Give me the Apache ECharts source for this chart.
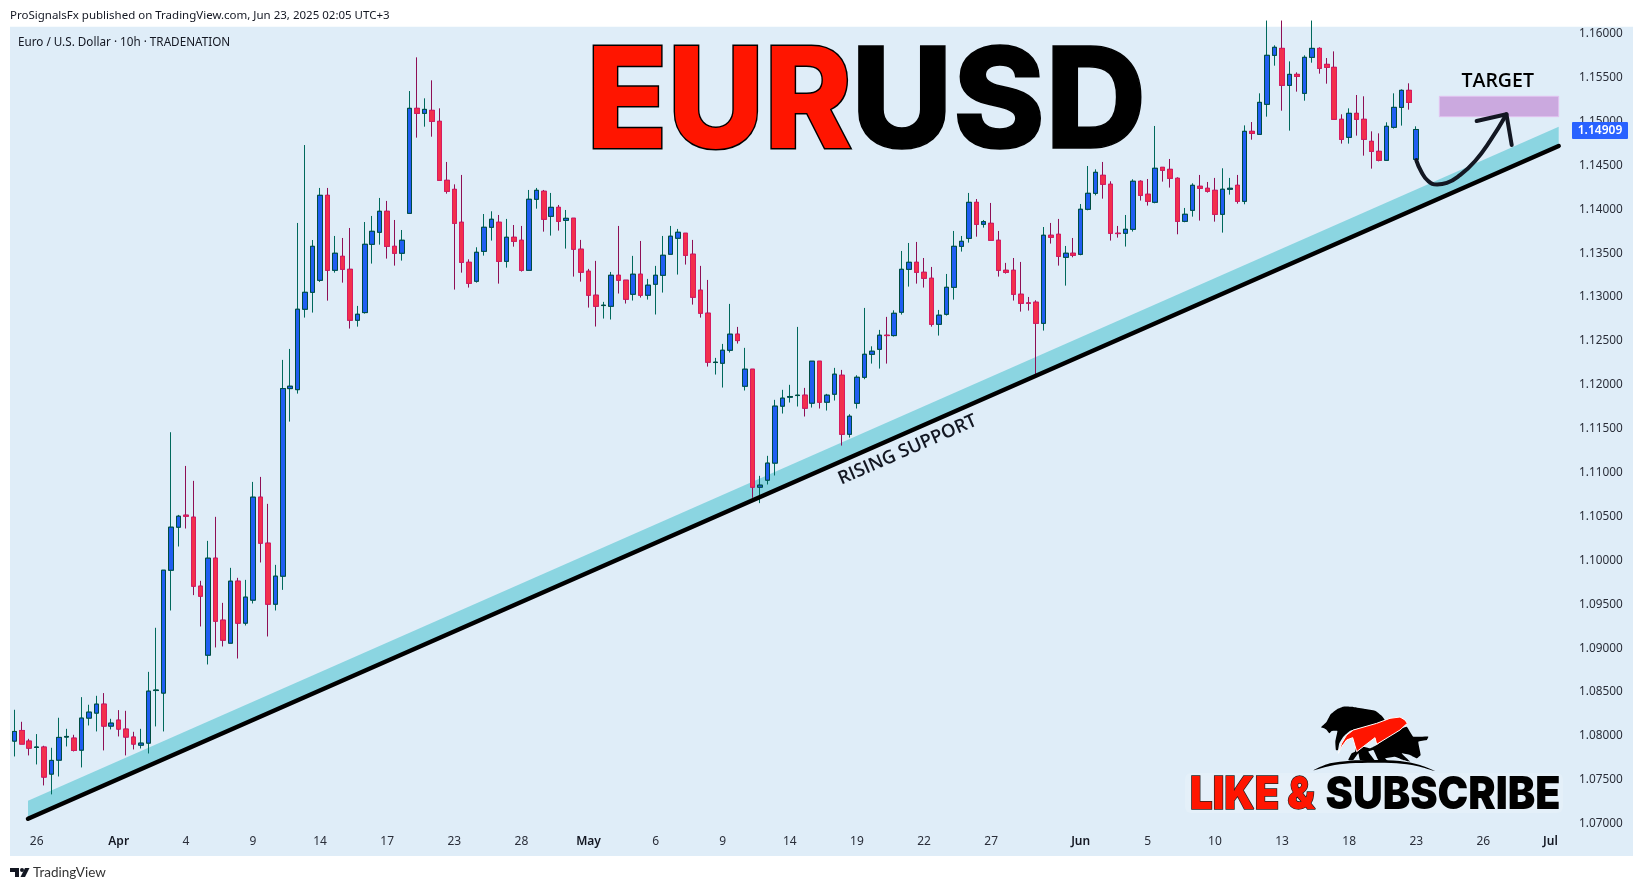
<!DOCTYPE html>
<html><head><meta charset="utf-8"><style>html,body{margin:0;padding:0;background:#fff}#c{width:1643px;height:891px}</style>
<script src="https://cdn.jsdelivr.net/npm/echarts@6/dist/echarts.min.js"></script></head><body><div id="c"></div>
<script>
// each bar: [open, close, low, high]
const marchBars=[[1.07941,1.08051,1.07766,1.08298],[1.08062,1.07907,1.07907,1.08161],[1.07941,1.07861,1.07778,1.07967],[1.07868,1.07874,1.07675,1.08021],[1.07873,1.07531,1.07436,1.07888],[1.07565,1.07721,1.07334,1.07865],[1.07724,1.07983,1.07538,1.08207],[1.07987,1.07994,1.0788,1.08081],[1.07975,1.07835,1.07823,1.08013],[1.07838,1.08203,1.07641,1.08442],[1.08203,1.08271,1.08119,1.08355],[1.0826,1.08362,1.08051,1.08457],[1.08362,1.08112,1.07835,1.08488],[1.08112,1.08146,1.08074,1.08195]];
const aprilBars=[[1.0818,1.08078,1.07994,1.08294],[1.08078,1.07987,1.07778,1.08286],[1.07987,1.07907,1.07846,1.08047],[1.07895,1.07918,1.07857,1.08081],[1.07918,1.0851,1.078,1.0873],[1.08517,1.08523,1.08108,1.09232],[1.08488,1.09888,1.08051,1.09888],[1.09888,1.10378,1.09429,1.1146],[1.10378,1.10503,1.10158,1.10518],[1.10515,1.10503,1.10363,1.11076],[1.10492,1.09706,1.09604,1.10906],[1.09706,1.09592,1.09247,1.09767],[1.0892,1.10025,1.08814,1.10222],[1.10025,1.09307,1.09008,1.10496],[1.09319,1.09091,1.09019,1.09516],[1.09057,1.09763,1.09057,1.09915],[1.09763,1.09285,1.08882,1.09801],[1.09285,1.09581,1.09258,1.09778],[1.09547,1.1072,1.09509,1.10894],[1.1072,1.10196,1.09976,1.10951],[1.10196,1.09501,1.09133,1.10644],[1.09501,1.0982,1.09429,1.09949],[1.0982,1.11957,1.09664,1.12284],[1.11957,1.11984,1.11581,1.12409],[1.11945,1.12861,1.119,1.13844],[1.12861,1.13054,1.12766,1.14732],[1.13054,1.13578,1.12823,1.1365],[1.13191,1.14159,1.13172,1.14243],[1.14159,1.13305,1.12959,1.14243],[1.13305,1.13499,1.13278,1.13696],[1.13464,1.13316,1.13164,1.13673],[1.13316,1.12736,1.12641,1.13787],[1.12736,1.12804,1.12663,1.12899],[1.12823,1.13601,1.12811,1.13855],[1.13601,1.13749,1.13381,1.13924],[1.13738,1.13977,1.13597,1.14129],[1.13977,1.13578,1.13438,1.14095],[1.13578,1.13499,1.13358,1.13878],[1.13499,1.13647,1.13415,1.13764],[1.13954,1.1515,1.13954,1.15347],[1.1515,1.15093,1.14816,1.15731],[1.15093,1.15138,1.14941,1.15264],[1.15127,1.15002,1.14827,1.15469],[1.15002,1.1433,1.1433,1.1515],[1.1433,1.14205,1.14178,1.14539],[1.14227,1.1384,1.13085,1.14284],[1.13852,1.13396,1.13278,1.14391],[1.13396,1.13157,1.13108,1.1343],[1.1318,1.1351,1.13164,1.13567],[1.13521,1.13795,1.13472,1.13946],[1.13795,1.13886,1.13643,1.13977],[1.13852,1.13407,1.13153,1.13935],[1.13407,1.13681,1.13335,1.1389],[1.13681,1.13635,1.13574,1.13821],[1.13647,1.13305,1.1329,1.1381],[1.13305,1.14114,1.13305,1.1422],[1.14114,1.14216,1.14007,1.14243],[1.14205,1.13886,1.13745,1.1422],[1.1392,1.14022,1.137,1.14186],[1.14022,1.13863,1.13757,1.14049],[1.13874,1.13897,1.13552,1.13992],[1.13898,1.13545,1.13233,1.13898],[1.13545,1.13283,1.13176,1.13651]];
const mayBars=[[1.13294,1.13021,1.1288,1.13321],[1.13021,1.12895,1.12664,1.13412],[1.12903,1.12907,1.12755,1.12945],[1.12895,1.13248,1.12744,1.13286],[1.13248,1.13192,1.1304,1.1381],[1.13192,1.12975,1.12926,1.13192],[1.13032,1.1326,1.1296,1.13469],[1.1326,1.13021,1.12994,1.13639],[1.13021,1.13135,1.12971,1.13207],[1.13146,1.13248,1.12801,1.13355],[1.13248,1.13476,1.13051,1.13696],[1.13488,1.13693,1.13488,1.1381],[1.1367,1.13738,1.13256,1.13776],[1.13727,1.13476,1.1337,1.13727],[1.13488,1.12998,1.12914,1.13651],[1.13078,1.12816,1.12766,1.13355],[1.12816,1.12258,1.12208,1.13195],[1.12254,1.12258,1.12117,1.12307],[1.12246,1.12394,1.11969,1.12466],[1.12394,1.12577,1.12368,1.12922],[1.12577,1.12504,1.1247,1.1266],[1.11984,1.12178,1.11935,1.12421],[1.12178,1.10834,1.10713,1.12178],[1.10834,1.10857,1.10652,1.10963],[1.10914,1.11108,1.10865,1.11191],[1.11108,1.11757,1.10967,1.11829],[1.11757,1.11848,1.11673,1.11943],[1.11859,1.11867,1.11798,1.12],[1.11878,1.11882,1.11753,1.1266],[1.11882,1.11734,1.11639,1.11965],[1.11791,1.12269,1.11741,1.12269],[1.12269,1.11802,1.1173,1.12269],[1.11802,1.11882,1.11707,1.11897],[1.11893,1.12121,1.11821,1.12193],[1.12109,1.11437,1.11308,1.1217],[1.11437,1.11642,1.11399,1.11665],[1.1179,1.12086,1.1173,1.12109],[1.12086,1.12348,1.12064,1.12876],[1.12348,1.12383,1.12242,1.12439],[1.12405,1.12565,1.12185,1.12626],[1.12565,1.12561,1.12242,1.12774],[1.12561,1.12815,1.1255,1.12849],[1.12827,1.13316,1.128,1.13525],[1.13316,1.13396,1.13119,1.13616],[1.13396,1.13282,1.13153,1.13628],[1.13282,1.13214,1.13108,1.13445],[1.13214,1.1269,1.12663,1.13343],[1.1269,1.12793,1.12561,1.12853],[1.12804,1.13111,1.12789,1.13263],[1.13111,1.13578,1.12971,1.13753],[1.13578,1.13635,1.13518,1.13696],[1.13669,1.14079,1.1362,1.14186],[1.14079,1.13829,1.13688,1.14117],[1.13829,1.13859,1.13791,1.13878],[1.1384,1.13647,1.13647,1.14072],[1.13647,1.13305,1.13233,1.13753],[1.13305,1.13282,1.13267,1.13389],[1.13305,1.13032,1.1296,1.13445],[1.13032,1.12929,1.12834,1.134],[1.12933,1.12929,1.12846,1.13001],[1.12941,1.12701,1.12109,1.12963],[1.12701,1.13704,1.12618,1.13798],[1.13704,1.13681,1.13609,1.13844],[1.13715,1.13464,1.13358,1.1389],[1.13453,1.13499,1.1313,1.13582],[1.13499,1.13476,1.13453,1.13673]];
const juneBars=[[1.13487,1.14,1.13476,1.1406],[1.14,1.14182,1.13988,1.14493],[1.14182,1.14421,1.14159,1.14455],[1.14387,1.14285,1.14121,1.14539],[1.14285,1.13727,1.13643,1.14319],[1.13727,1.13723,1.13677,1.1381],[1.13727,1.13772,1.13575,1.13935],[1.13772,1.14319,1.13746,1.14342],[1.14319,1.14159,1.14099,1.1433],[1.14171,1.14091,1.14042,1.14345],[1.1408,1.14467,1.14068,1.14949],[1.14478,1.14444,1.14315,1.14478],[1.14455,1.14353,1.14247,1.14573],[1.14353,1.13863,1.13715,1.14364],[1.13863,1.13943,1.13852,1.14015],[1.13988,1.14273,1.13916,1.14296],[1.14262,1.14239,1.13871,1.14391],[1.14239,1.14205,1.1419,1.14311],[1.14216,1.13943,1.13859,1.14357],[1.13943,1.14228,1.13734,1.14467],[1.14228,1.14239,1.14167,1.14357],[1.14273,1.14091,1.14064,1.14391],[1.14091,1.14888,1.14057,1.14956],[1.14888,1.14865,1.14793,1.14994],[1.14854,1.15218,1.14854,1.15321],[1.15196,1.15754,1.15055,1.1615],[1.15754,1.15845,1.15636,1.15868],[1.15833,1.15412,1.15123,1.1615],[1.15412,1.15537,1.14896,1.15685],[1.15537,1.15514,1.1534,1.1556],[1.15321,1.15731,1.15237,1.15754],[1.15731,1.15833,1.1567,1.1615],[1.15833,1.15606,1.15545,1.15845],[1.15651,1.15617,1.15431,1.15723],[1.15617,1.15025,1.15025,1.15799],[1.15025,1.14797,1.14748,1.15082],[1.1482,1.15093,1.14748,1.1515],[1.15093,1.15025,1.14839,1.15302],[1.15025,1.14797,1.14611,1.15287],[1.14774,1.1466,1.14463,1.14888],[1.1466,1.14558,1.14546,1.14865],[1.14558,1.14945,1.14558,1.14991],[1.14934,1.15161,1.14919,1.15321],[1.15161,1.15355,1.14953,1.15366],[1.15355,1.15218,1.15135,1.15435],[1.14569,1.14909,1.14569,1.14945]];

const tickIndex=[3,14,23,32,41,50,59,68,77,86,95,104,113,122,131,143,152,161,170,179,188,197,206];
const tickText=['26','Apr','4','9','14','17','23','28','May','6','9','14','19','22','27','Jun','5','10','13','18','23','26','Jul'];
const slotCount=217;
const priceTicks=[1.07,1.075,1.08,1.085,1.09,1.095,1.10,1.105,1.11,1.115,1.12,1.125,1.13,1.135,1.14,1.145,1.15,1.155,1.16];
const lastPrice=1.14909;

// annotations, in [bar index, price]
const supportLine=[[1.84,1.07056],[207.1,1.14721]];
const supportBand=[[1.84,1.07261],[207.1,1.14941],[207.1,1.14721],[1.84,1.07056]];
const targetBox=[[191.1,1.15287],[207.1,1.15287],[207.1,1.15055],[191.1,1.15055]];
const projectionCurve=[[188,1.14561],[188.7,1.14425],[189.6,1.14322],[190.8,1.14282],[192.1,1.143],[193.9,1.14391],[195.9,1.1455],[197.9,1.14778],[200.1,1.15082]];
const arrowHead=[[196.1,1.15006],[200.1,1.15082],[200.8,1.14732]];

const bars=[...marchBars,...aprilBars,...mayBars,...juneBars];
const categories=Array.from({length:slotCount},(_,i)=>{const k=tickIndex.indexOf(i);return k<0?'':tickText[k];});
const bodies=bars.map(b=>[b[0],b[1],Math.min(b[0],b[1]),Math.max(b[0],b[1])]);
const months=['Apr','May','Jun','Jul'];
const UI='"Noto Sans",sans-serif';

function polygonSeries(name,pts,style,z){
  return {type:'custom',name,xAxisIndex:1,yAxisIndex:0,z,silent:true,clip:false,data:[[0,0]],
    renderItem:(p,api)=>({type:'polygon',shape:{points:pts.map(q=>api.coord(q))},style})};
}
function pathSeries(name,pts,smooth,width,color,z){
  return {type:'line',name,xAxisIndex:1,yAxisIndex:0,data:pts,smooth,showSymbol:false,symbol:'none',z,silent:true,clip:false,
    lineStyle:{color,width,cap:'round',join:'round'}};
}
const logoBear=[[33,97],[50,80],[62,58],[82,42],[100,35],[130,36],[165,42],[195,47],[215,62],[228,82],[190,92],[150,100],[120,108],[100,125],[88,145],[84,165],[78,165],[76,140],[80,120],[82,108],[65,108],[58,115],[50,105],[42,100]];
const logoBull=[[115,195],[125,175],[135,170],[140,150],[180,160],[200,150],[250,110],[290,95],[310,125],[355,125],[350,135],[325,140],[332,180],[320,190],[300,180],[275,175],[300,200],[280,195],[255,185],[225,190],[235,200],[205,195],[190,165],[175,170],[195,198],[150,195],[145,175],[130,195]];
const logoArc=[[10,226],[60,205],[120,197],[190,195],[270,198],[330,210],[375,228],[320,213],[260,205],[190,203],[120,205],[60,213]];
const logoSwoosh=[[85,175],[95,145],[110,120],[130,105],[165,95],[200,85],[240,70],[270,66],[285,75],[292,85],[270,105],[200,148],[195,128],[140,170],[128,128],[110,135],[95,155]];

const chart=echarts.init(document.getElementById('c'),null,{renderer:'canvas'});
chart.setOption({
  animation:false,backgroundColor:'#ffffff',
  grid:{left:10.57,top:26.7,width:1618.2,height:797,containLabel:false},
  xAxis:[
    {type:'category',data:categories,boundaryGap:true,axisLine:{show:false},axisTick:{show:false},splitLine:{show:false},
     axisLabel:{interval:0,margin:12,hideOverlap:false,fontFamily:UI,fontSize:12,color:'#2a2e39',
       formatter:v=>months.includes(v)?'{m|'+v+'}':v,rich:{m:{fontFamily:UI,fontSize:12,fontWeight:600,color:'#131722'}}}},
    {type:'value',min:-0.5,max:slotCount-0.5,show:false}
  ],
  yAxis:[{type:'value',position:'right',min:1.07,max:1.1608,scale:true,splitLine:{show:false},axisLine:{show:false},axisTick:{show:false},
    axisLabel:{inside:true,margin:6,padding:[2,0,0,0],customValues:priceTicks,formatter:v=>v.toFixed(5),fontFamily:UI,fontSize:11.8,color:'#2a2e39'}}],
  series:[
    polygonSeries('Support band',supportBand,{fill:'#8bd5e1'},1),
    polygonSeries('Target',targetBox,{fill:'#cba9df',stroke:'#e2c2f0',lineWidth:1},1),
    {type:'candlestick',name:'EURUSD wicks',data:bars,barWidth:5,z:2,clip:true,silent:true,
      itemStyle:{color:'#1f5ef2',color0:'#f2304c',borderColor:'#00695c',borderColor0:'#8e0f55',borderWidth:1}},
    {type:'candlestick',name:'EURUSD bodies',data:bodies,barWidth:5,z:3,clip:true,silent:true,
      itemStyle:{color:'#1f5ef2',color0:'#f2304c',borderColor:'#004d40',borderColor0:'#d81b60',borderWidth:1}},
    pathSeries('Rising support',supportLine,false,4.5,'#000000',4),
    pathSeries('Projection',projectionCurve,true,4,'#131722',5),
    pathSeries('Arrow head',arrowHead,false,4,'#131722',5)
  ],
  graphic:{elements:[
    {type:'rect',z:-1,silent:true,shape:{x:10,y:26.7,width:1623,height:829.3},style:{fill:'#dfedf8'}},
    {type:'text',z:10,silent:true,x:10,y:16,style:{text:'ProSignalsFx published on TradingView.com, Jun 23, 2025 02:05 UTC+3',font:'11.5px '+UI,fill:'#131722',textVerticalAlign:'middle'}},
    {type:'text',z:10,silent:true,x:18,y:42.5,style:{text:'Euro / U.S. Dollar · 10h · TRADENATION',font:'11.7px '+UI,fill:'#131722',textVerticalAlign:'middle'}},
    {type:'text',z:10,silent:true,x:586.5,y:106,scaleX:0.95,style:{text:'EUR',font:'800 140px Inter',fill:'#ff1500',stroke:'#000',lineWidth:3,textVerticalAlign:'middle',shadowBlur:18,shadowColor:'rgba(255,255,255,.9)'}},
    {type:'text',z:10,silent:true,x:851,y:106,style:{text:'USD',font:'800 140px Inter',fill:'#000',stroke:'#000',lineWidth:1.5,textVerticalAlign:'middle',shadowBlur:18,shadowColor:'rgba(255,255,255,.9)'}},
    {type:'text',z:10,silent:true,x:1497.7,y:81,style:{text:'TARGET',font:'600 19.5px "Open Sans"',fill:'#000',textAlign:'center',textVerticalAlign:'middle'}},
    {type:'text',z:10,silent:true,x:907.5,y:450,rotation:0.4138,style:{text:'RISING SUPPORT',font:'600 18.5px "Open Sans"',fill:'#131722',textAlign:'center',textVerticalAlign:'middle'}},
    {type:'rect',z:11,silent:true,shape:{x:1572,y:122,width:56,height:17,r:1},style:{fill:'#2962ff'}},
    {type:'text',z:12,silent:true,x:1600,y:130.5,style:{text:lastPrice.toFixed(5),font:'600 12px '+UI,fill:'#fff',textAlign:'center',textVerticalAlign:'middle'}},
    {type:'rect',z:9,silent:true,shape:{x:1185,y:773,width:378,height:40,r:6},style:{fill:'rgba(255,255,255,.16)',shadowBlur:14,shadowColor:'rgba(255,255,255,.3)'}},
    {type:'text',z:10,silent:true,x:1190,y:795,scaleX:0.89,style:{text:'LIKE &',font:'900 45px Inter',fill:'#ff1500',stroke:'#222',lineWidth:1.5,textVerticalAlign:'middle'}},
    {type:'text',z:10,silent:true,x:1325.5,y:795,scaleX:0.915,style:{text:'SUBSCRIBE',font:'900 45px Inter',fill:'#000',textVerticalAlign:'middle'}},
    {type:'group',z:10,silent:true,x:1310,y:695,scaleX:1/3,scaleY:1/3,children:[
      {type:'polygon',z:10,shape:{points:logoBear,smooth:0.15},style:{fill:'#000'}},
      {type:'polygon',z:10,shape:{points:logoBull,smooth:0.1},style:{fill:'#000'}},
      {type:'polygon',z:10,shape:{points:logoArc,smooth:0.3},style:{fill:'#000'}},
      {type:'polygon',z:11,shape:{points:logoSwoosh},style:{fill:'#ff1500',stroke:'#fff',lineWidth:3}}
    ]},
    {type:'polygon',z:10,silent:true,shape:{points:[[10,868],[19,868],[19,877],[15,877],[15,872],[10,872]]},style:{fill:'#131722'}},
    {type:'circle',z:10,silent:true,shape:{cx:22,cy:870,r:2},style:{fill:'#131722'}},
    {type:'polygon',z:10,silent:true,shape:{points:[[25,868],[29.5,868],[25,877],[20.5,877]]},style:{fill:'#131722'}},
    {type:'text',z:10,silent:true,x:33,y:873,style:{text:'TradingView',font:'13.5px Lato',fill:'#333',textVerticalAlign:'middle'}}
  ]}
});
</script></body></html>
